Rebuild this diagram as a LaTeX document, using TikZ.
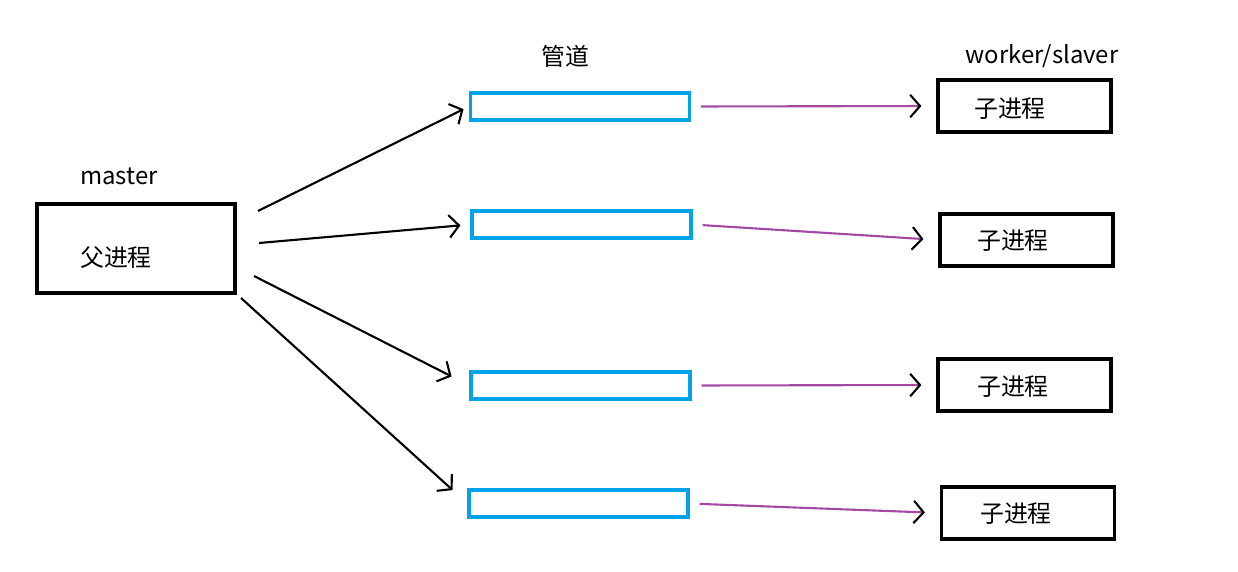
\documentclass[tikz,border=0pt]{standalone}
\usepackage{fontspec}
\setmainfont{Noto Sans CJK SC}
\usetikzlibrary{arrows.meta}

\definecolor{pipeblue}{RGB}{0,162,232}
\definecolor{relaypurple}{RGB}{163,73,164}

\tikzset{
  procbox/.style={draw, line width=2.2pt, minimum width=4.325cm, minimum height=1.3cm, inner sep=0pt},
  pipebox/.style={draw=pipeblue, line width=2.2pt, minimum width=5.475cm, minimum height=0.675cm, inner sep=0pt},
  caption/.style={font=\fontsize{17pt}{20pt}\selectfont, inner sep=0pt},
  feed/.style={line width=1.5pt, -{Straight Barb[length=7pt, width=16pt]}},
  relay/.style={draw=relaypurple, line width=1.5pt, shorten <=0.25cm, shorten >=0.375cm,
                -{Straight Barb[length=7pt, width=16pt, black]}},
}

\begin{document}
\begin{tikzpicture}[x=0.025cm, y=-0.025cm]
    \useasboundingbox (0, 0) rectangle (1238, 572);
    % master
    \node [procbox, minimum width=4.95cm, minimum height=2.225cm] (master) at (136, 248.5) {};
    \node [caption] (mastername) at (119, 176) {master};
    \node [caption] (mastertext) at (116, 258) {父进程};
    % pipes
    \node [caption] (pipename) at (565, 56) {管道};
    \node [pipebox] (p1) at (580, 106.5) {};
    \node [pipebox] (p2) at (581.5, 224.5) {};
    \node [pipebox] (p3) at (580.5, 385.5) {};
    \node [pipebox] (p4) at (578.5, 503.5) {};
    % workers
    \node [caption] (workername) at (1042, 56) {worker/slaver};
    \node [procbox] (c1) at (1024.5, 106) {};
    \node [caption] (t1) at (1010, 109) {子进程};
    \node [procbox] (c2) at (1026.5, 240) {};
    \node [caption] (t2) at (1013, 241) {子进程};
    \node [procbox] (c3) at (1024.5, 385) {};
    \node [caption] (t3) at (1013, 387) {子进程};
    \node [procbox] (c4) at (1028, 513) {};
    \node [caption] (t4) at (1016, 514) {子进程};
    % master -> pipes
    \coordinate (m1) at (258, 211);
    \coordinate (m2) at (259, 243);
    \coordinate (m3) at (254, 276);
    \coordinate (m4) at (241, 298);
    \draw [feed, shorten >=0.15cm]  (m1) -- (p1.west);
    \draw [feed, shorten >=0.25cm]  (m2) -- (p2.west);
    \draw [feed, shorten >=0.5cm]   (m3) -- (p3.west);
    \draw [feed, shorten >=0.5cm]   (m4) -- (p4.west);
    % pipes -> workers
    \draw [relay] (p1.east) -- (c1.west);
    \draw [relay] (p2.east) -- (c2.west);
    \draw [relay] (p3.east) -- (c3.west);
    \draw [relay] (p4.east) -- (c4.west);
\end{tikzpicture}
\end{document}
